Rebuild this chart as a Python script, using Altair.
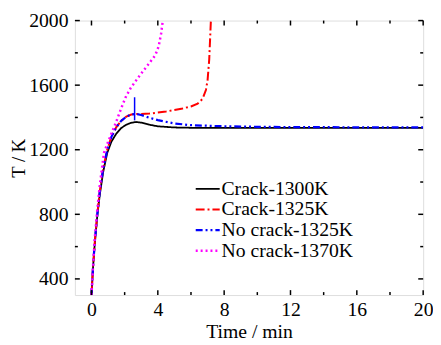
import altair as alt
import pandas as pd

series_names = ["Crack-1300K", "Crack-1325K", "No crack-1325K", "No crack-1370K"]
series_colors = ["#000000", "#ff0000", "#0000ff", "#ff00ff"]
series_dashes = [[1, 0], [9, 3, 2, 3], [7, 3, 2, 3, 2, 3], [2, 3]]
series_widths = [1.8, 2.5, 2.5, 3]

t_black = [0, 0.1, 0.2, 0.35, 0.5, 0.7, 0.95, 1.2, 1.5, 1.8, 2.1, 2.4, 2.7, 3.0, 3.5, 4, 5, 6, 8, 10, 14, 20]
T_black = [300, 480, 620, 790, 920, 1060, 1180, 1250, 1300, 1335, 1355, 1367, 1372, 1368, 1355, 1345, 1338, 1336, 1335, 1335, 1335, 1335]

t_red = [0, 0.1, 0.2, 0.35, 0.5, 0.7, 0.95, 1.2, 1.5, 1.8, 2.1, 2.4, 2.7, 3.0, 3.5, 4, 4.5, 5, 5.5, 6, 6.4, 6.7, 6.9, 7.0, 7.1, 7.2]
T_red = [300, 485, 630, 800, 940, 1080, 1200, 1280, 1340, 1380, 1405, 1418, 1422, 1422, 1424, 1430, 1437, 1446, 1456, 1468, 1485, 1515, 1570, 1630, 1760, 2000]

t_blue = [0, 0.1, 0.2, 0.35, 0.5, 0.7, 0.95, 1.2, 1.5, 1.8, 2.1, 2.4, 2.7, 3.0, 3.5, 4, 5, 6, 8, 10, 12, 16, 20]
T_blue = [300, 485, 630, 800, 940, 1080, 1200, 1280, 1340, 1380, 1405, 1418, 1422, 1415, 1398, 1383, 1363, 1352, 1345, 1342, 1340, 1339, 1338]

t_mag = [0, 0.1, 0.2, 0.35, 0.5, 0.75, 0.95, 1.2, 1.45, 1.75, 2.05, 2.35, 2.65, 2.95, 3.25, 3.55, 3.85, 4.05, 4.2, 4.3]
T_mag = [300, 490, 650, 830, 980, 1180, 1235, 1300, 1362, 1445, 1523, 1580, 1624, 1665, 1705, 1745, 1786, 1840, 1920, 2000]

marker_t = [2.6]
marker_T_low = [1382]
marker_T_high = [1525]

x_major = [0, 4, 8, 12, 16, 20]
x_minor = [2, 6, 10, 14, 18]
y_major = [400, 800, 1200, 1600, 2000]
y_minor = [600, 1000, 1400, 1800]

W, H = 354, 279
FONT = "Liberation Serif, Times New Roman, serif"

rows = []
for name, ts, Ts in zip(series_names, [t_black, t_red, t_blue, t_mag], [T_black, T_red, T_blue, T_mag]):
    for t, T in zip(ts, Ts):
        rows.append({"t": t, "T": T, "series": name})
df = pd.DataFrame(rows)

xs = alt.Scale(domain=[-1, 20], nice=False, zero=False)
ys = alt.Scale(domain=[300, 2000], nice=False, zero=False)

legend = alt.Legend(
    title=None, orient="none", legendX=124, legendY=160,
    symbolType="M-1.25,0H1.25", symbolSize=380, symbolStrokeWidth=2.5,
    labelFont=FONT, labelFontSize=20, labelColor="black",
    rowPadding=0, labelOffset=3, padding=0,
)

lines = alt.Chart(df).mark_line(clip=True).encode(
    x=alt.X("t:Q", scale=xs, axis=alt.Axis(
        values=x_major, format="d", title="Time / min", ticks=False, domain=False, grid=False,
        labelFont=FONT, labelFontSize=20, labelColor="black", labelPadding=5, labelFlush=False,
        titleFont=FONT, titleFontSize=20, titleFontWeight="normal", titleColor="black", titlePadding=2)),
    y=alt.Y("T:Q", scale=ys, axis=alt.Axis(
        values=y_major, format="d", title="T / K", ticks=False, domain=False, grid=False,
        labelFont=FONT, labelFontSize=20, labelColor="black", labelPadding=7, labelFlush=False,
        titleFont=FONT, titleFontSize=19, titleFontWeight="normal", titleColor="black", titlePadding=0)),
    color=alt.Color("series:N", scale=alt.Scale(domain=series_names, range=series_colors), legend=legend),
    strokeDash=alt.StrokeDash("series:N", scale=alt.Scale(domain=series_names, range=series_dashes), legend=legend),
    strokeWidth=alt.StrokeWidth("series:N", scale=alt.Scale(domain=series_names, range=series_widths), legend=None),
    order=alt.Order("t:Q"),
)

marker = alt.Chart(pd.DataFrame({"t": marker_t, "T": marker_T_low, "hi": marker_T_high})).mark_rule(
    color="#0000ff", strokeWidth=1.5
).encode(x=alt.X("t:Q", scale=xs), y=alt.Y("T:Q", scale=ys), y2="hi:Q")

def xticks(vals, length):
    d = pd.DataFrame({"t": vals})
    bottom = alt.Chart(d).mark_rule(color="black", strokeWidth=1.5).encode(
        x=alt.X("t:Q", scale=xs), y=alt.value(H), y2=alt.value(H - length))
    top = alt.Chart(d).mark_rule(color="black", strokeWidth=1.5).encode(
        x=alt.X("t:Q", scale=xs), y=alt.value(0), y2=alt.value(length))
    return [bottom, top]

def yticks(vals, length):
    d = pd.DataFrame({"T": vals})
    left = alt.Chart(d).mark_rule(color="black", strokeWidth=1.5).encode(
        y=alt.Y("T:Q", scale=ys), x=alt.value(0), x2=alt.value(length))
    right = alt.Chart(d).mark_rule(color="black", strokeWidth=1.5).encode(
        y=alt.Y("T:Q", scale=ys), x=alt.value(W), x2=alt.value(W - length))
    return [left, right]

ticks = xticks(x_major, 5) + xticks(x_minor, 3) + yticks(y_major, 5) + yticks(y_minor, 3)

chart = alt.layer(lines, *ticks, marker).properties(
    width=W, height=H,
    autosize=alt.AutoSizeParams(type="none"),
    padding={"left": 68, "top": 10, "right": 10, "bottom": 48},
).configure_view(stroke="black", strokeWidth=2).configure(background="white")

chart.save("out.html", embed_options={"renderer": "svg", "actions": False})
